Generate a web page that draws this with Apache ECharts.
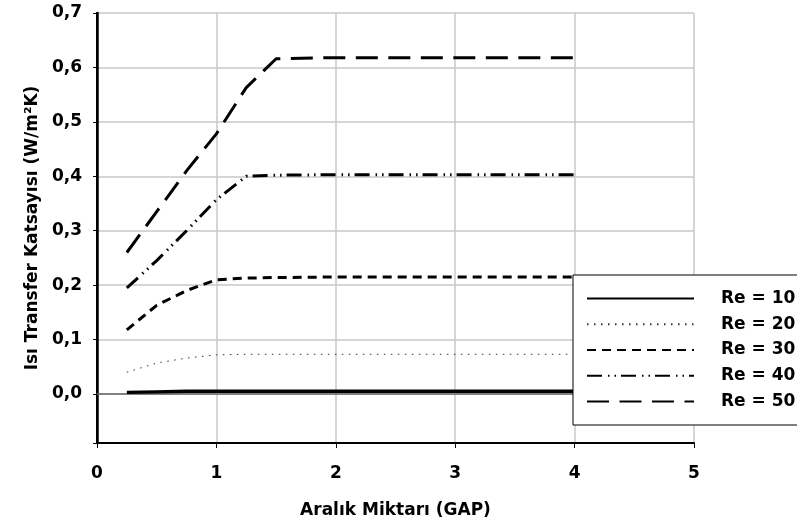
<!DOCTYPE html>
<html>
<head>
<meta charset="utf-8">
<script src="https://cdn.jsdelivr.net/npm/echarts@6/dist/echarts.min.js"></script>
<style>
  html, body { margin: 0; padding: 0; background: #fff; }
  #chart { width: 797px; height: 525px; }
</style>
</head>
<body>
<div id="chart"></div>
<script>
// Gap values (x) shared by every series
const gap = [0.25, 0.5, 0.75, 1, 1.25, 1.5, 2, 2.5, 3, 3.5, 4];

// Heat transfer coefficient for each Reynolds number
const re10 = [0.003, 0.004, 0.005, 0.005, 0.005, 0.005, 0.005, 0.005, 0.005, 0.005, 0.005];
const re20 = [0.040, 0.057, 0.066, 0.072, 0.073, 0.073, 0.073, 0.073, 0.073, 0.073, 0.073];
const re30 = [0.118, 0.163, 0.190, 0.210, 0.213, 0.214, 0.215, 0.215, 0.215, 0.215, 0.215];
const re40 = [0.195, 0.245, 0.300, 0.357, 0.400, 0.402, 0.403, 0.403, 0.403, 0.403, 0.403];
const re50 = [0.260, 0.335, 0.410, 0.478, 0.563, 0.616, 0.618, 0.618, 0.618, 0.618, 0.618];

const seriesNames = ['Re = 10', 'Re = 20', 'Re = 30', 'Re = 40', 'Re = 50'];
const xTicks = ['0', '1', '2', '3', '4', '5'];

const FONT = '"DejaVu Sans", Arial, sans-serif';
const pairs = ys => gap.map((x, i) => [x, ys[i]]);

// Line look per series: solid, dotted, short dash, dash-dot-dot, long dash
const styles = [
  { width: 3.4, type: 'solid', color: '#000' },
  { width: 1, type: [1.5, 5.5], color: '#333' },
  { width: 3, type: [9, 6], color: '#000' },
  { width: 3, type: [15, 6, 1.5, 5, 1.5, 5], color: '#000' },
  { width: 3, type: [22, 10.5], color: '#000' }
];

const chart = echarts.init(document.getElementById('chart'), null, { renderer: 'canvas' });

chart.setOption({
  backgroundColor: '#fff',
  animation: false,
  textStyle: { fontFamily: FONT },
  grid: { left: 97, right: 103, top: 13, bottom: 82, containLabel: false },
  legend: {
    orient: 'vertical',
    left: 573,
    top: 275,
    data: seriesNames,
    backgroundColor: '#fff',
    borderColor: '#000',
    borderWidth: 1,
    borderRadius: 0,
    padding: [15, 40, 15, 13],
    itemWidth: 107,
    itemHeight: 14,
    itemGap: 8.75,
    itemStyle: { opacity: 0 },
    textStyle: { fontFamily: FONT, fontWeight: 'bold', fontSize: 17, color: '#000', padding: [0, 0, 0, 22] }
  },
  xAxis: [{
    type: 'value',
    min: 0, max: 5, interval: 1,
    name: 'Aralık Miktarı (GAP)',
    nameLocation: 'middle',
    nameGap: 59,
    nameTextStyle: { fontFamily: FONT, fontWeight: 'bold', fontSize: 17, color: '#000' },
    axisLine: { show: true, onZero: false, lineStyle: { color: '#000', width: 2 } },
    axisTick: { show: true, inside: false, length: 5, lineStyle: { color: '#000', width: 1 } },
    axisLabel: { fontFamily: FONT, fontWeight: 'bold', fontSize: 17, color: '#000', margin: 22,
                 formatter: v => xTicks[Math.round(v)] },
    splitLine: { show: true, lineStyle: { color: '#c8c8c8', width: 1.5 } }
  }, {
    type: 'value', position: 'top', min: 0, max: 5,
    axisLine: { show: true, lineStyle: { color: '#666', width: 1.5 } },
    axisTick: { show: false }, axisLabel: { show: false }, splitLine: { show: false }
  }],
  yAxis: [{
    type: 'value',
    min: -0.09, max: 0.7, splitNumber: 8,
    name: 'Isı Transfer Katsayısı (W/m²K)',
    nameLocation: 'middle',
    nameGap: 52,
    nameTextStyle: { fontFamily: FONT, fontWeight: 'bold', fontSize: 17, color: '#000' },
    axisLine: { show: true, onZero: false, lineStyle: { color: '#000', width: 2 } },
    axisTick: { show: true, inside: false, length: 4, lineStyle: { color: '#000', width: 1 } },
    axisLabel: { fontFamily: FONT, fontWeight: 'bold', fontSize: 17, color: '#000', margin: 15,
                 formatter: v => v < -0.001 ? '' : v.toFixed(1).replace('.', ',') },
    splitLine: { show: true, lineStyle: { color: '#c8c8c8', width: 1.5 } }
  }, {
    type: 'value', position: 'right', min: -0.09, max: 0.7,
    axisLine: { show: true, lineStyle: { color: '#000', width: 2.5 } },
    axisTick: { show: false }, axisLabel: { show: false }, splitLine: { show: false }
  }],
  series: [re10, re20, re30, re40, re50].map((ys, i) => ({
    name: seriesNames[i],
    type: 'line',
    xAxisIndex: 0,
    yAxisIndex: 0,
    data: pairs(ys),
    showSymbol: false,
    symbol: 'none',
    smooth: false,
    lineStyle: styles[i],
    itemStyle: { color: styles[i].color }
  }))
});
</script>
</body>
</html>
